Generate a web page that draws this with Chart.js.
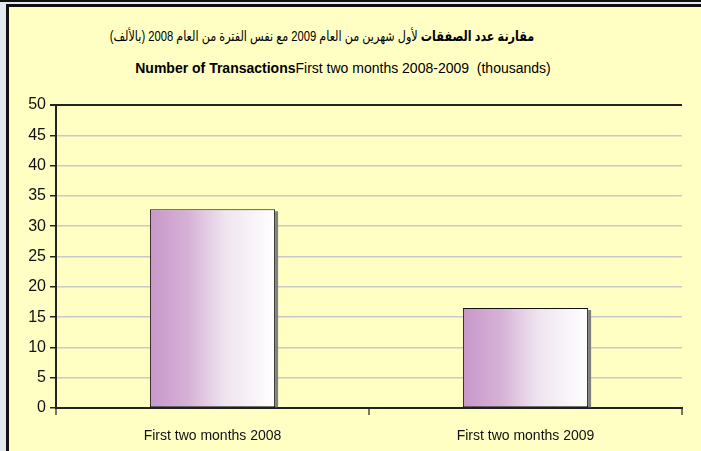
<!DOCTYPE html>
<html>
<head>
<meta charset="utf-8">
<script src="https://cdn.jsdelivr.net/npm/chart.js@4"></script>
<style>
  html, body { margin: 0; padding: 0; }
  body { width: 701px; height: 451px; background: #e3e9ef; position: relative; overflow: hidden; }
  .topline { position: absolute; left: 0; top: 0; width: 701px; height: 2px; background: #111; }
  .frame { position: absolute; left: 6px; top: 4px; right: 0; bottom: 0;
           border-left: 3px solid #111; border-top: 3px solid #111; background: #ffffc4; }
  .t1, .t2 { position: absolute; font-family: "Liberation Sans", "DejaVu Sans", Arial, sans-serif;
             color: #000; white-space: nowrap; }
  .t1 { top: 28px; left: 322px; font-size: 14px; direction: rtl; transform: translateX(-50%) scaleX(0.8); }
  .t2 { top: 60px; left: 343px; font-size: 14px; transform: translateX(-50%); }
  #wrap { position: absolute; left: 0; top: 0; width: 701px; height: 451px; }
</style>
</head>
<body>
<div class="topline"></div>
<div class="frame"></div>
<div class="t1"><b>مقارنة عدد الصفقات</b> لأول شهرين من العام 2009 مع نفس الفترة من العام 2008 (بالألف)</div>
<div class="t2"><b>Number of Transactions</b>First two months 2008-2009&nbsp;&nbsp;(thousands)</div>
<div id="wrap"><canvas id="chart" width="701" height="451"></canvas></div>
<script>
    const periods=["First two months 2008","First two months 2009"];
    const transactions=[32.8,16.5];
    const yTicks=[0,5,10,15,20,25,30,35,40,45,50];

    // gradient for each bar: purple on the left fading to white on the right
    function barFill(context) {
        const chart=context.chart;
        const area=chart.chartArea;
        if (!area) return "#c999c9";
        const x=chart.scales.x;
        const half=(x.getPixelForValue(1)-x.getPixelForValue(0))*0.4/2;
        const cx=x.getPixelForValue(context.dataIndex);
        const g=chart.ctx.createLinearGradient(cx-half,0,cx+half,0);
        g.addColorStop(0,"#c897c9");
        g.addColorStop(0.3,"#d6b1d6");
        g.addColorStop(0.6,"#efe4f0");
        g.addColorStop(1,"#ffffff");
        return g;
    }

    const barShadow={
        id: "barShadow",
        beforeDatasetsDraw(chart) {
            const ctx=chart.ctx;
            chart.getDatasetMeta(0).data.forEach(function(bar) {
                ctx.save();
                ctx.fillStyle="#808080";
                ctx.fillRect(bar.x+bar.width/2,bar.y+2,3,bar.base-bar.y-2);
                ctx.restore();
            });
        },
    };

    const ctx=document.getElementById("chart").getContext("2d");
    const chart=new Chart(ctx,{
        type: "bar",
        data: {
            labels: periods,
            datasets: [{
                data: transactions,
                backgroundColor: barFill,
                borderColor: "#111",
                borderWidth: 1,
                borderSkipped: false,
                barPercentage: 0.4,
                categoryPercentage: 1,
            }],
        },
        plugins: [barShadow],
        options: {
            responsive: false,
            animation: false,
            layout: {
                padding: {top: 105, right: 19, left: 0, bottom: 0},
            },
            plugins: {
                legend: {display: false},
                tooltip: {enabled: false},
            },
            scales: {
                x: {
                    afterFit: function(scale) { scale.height=43; },
                    grid: {
                        offset: true,
                        color: function(c) { return c.index===periods.length ? "#8a8a6a" : "rgba(0,0,0,0)"; },
                        tickColor: "#77775a",
                        tickLength: 7,
                        lineWidth: 2,
                    },
                    border: {color: "#222", width: 2},
                    ticks: {
                        color: "#111",
                        padding: 13,
                        font: {family: "Liberation Sans", size: 14},
                    },
                },
                y: {
                    min: 0,
                    max: 50,
                    afterFit: function(scale) { scale.width=56; },
                    afterBuildTicks: function(scale) { scale.ticks=yTicks.map(function(v) { return {value: v}; }); },
                    grid: {
                        color: function(c) { return c.tick && c.tick.value===50 ? "#222" : "#c9c9c9"; },
                        lineWidth: function(c) { return c.tick && c.tick.value===50 ? 2 : 1.5; },
                        tickColor: "#222",
                        tickLength: 6,
                    },
                    border: {color: "#222", width: 2},
                    ticks: {
                        color: "#111",
                        padding: 4,
                        font: {family: "Liberation Sans", size: 16},
                    },
                },
            },
        },
    });
</script>
</body>
</html>
